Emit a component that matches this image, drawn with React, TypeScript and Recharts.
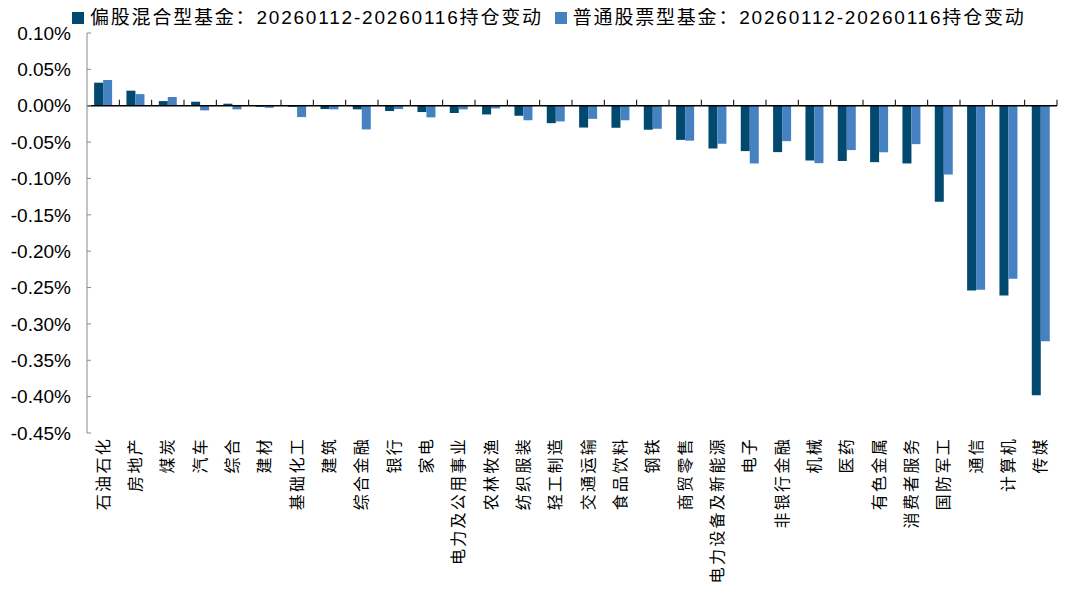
import { BarChart, Bar, XAxis, YAxis, ReferenceLine } from "recharts";

const FONT = '"Liberation Sans", "Noto Sans CJK SC", sans-serif';

const categories = [
  "石油石化", "房地产", "煤炭", "汽车", "综合", "建材", "基础化工", "建筑", "综合金融", "银行",
  "家电", "电力及公用事业", "农林牧渔", "纺织服装", "轻工制造", "交通运输", "食品饮料", "钢铁", "商贸零售", "电力设备及新能源",
  "电子", "非银行金融", "机械", "医药", "有色金属", "消费者服务", "国防军工", "通信", "计算机", "传媒",
];

// 单位：%
const hybridFund = [
  0.0317, 0.0207, 0.0064, 0.0055, 0.0028, -0.0014, -0.0014, -0.0046, -0.005, -0.0073,
  -0.0087, -0.01, -0.012, -0.0138, -0.024, -0.03, -0.0303, -0.033, -0.047, -0.0588,
  -0.0624, -0.0638, -0.0753, -0.076, -0.0776, -0.0794, -0.132, -0.254, -0.261, -0.398,
];

const stockFund = [
  0.0354, 0.016, 0.012, -0.0064, -0.005, -0.0028, -0.0156, -0.005, -0.0326, -0.0046,
  -0.016, -0.005, -0.0037, -0.02, -0.0216, -0.018, -0.02, -0.0317, -0.048, -0.0523,
  -0.0794, -0.0487, -0.079, -0.061, -0.064, -0.0528, -0.0946, -0.253, -0.238, -0.324,
];

const yTicks = [0.1, 0.05, 0, -0.05, -0.1, -0.15, -0.2, -0.25, -0.3, -0.35, -0.4, -0.45];

const seriesNames = [
  "偏股混合型基金：20260112-20260116持仓变动",
  "普通股票型基金：20260112-20260116持仓变动",
];

const DARK = "#02496F";
const LIGHT = "#4682C2";

function CategoryTick({ x, y, payload }: any) {
  return (
    <text
      transform={`translate(${x},${y + 4}) rotate(-90)`}
      textAnchor="end"
      dominantBaseline="central"
      fontSize={16}
      letterSpacing={2.3}
      fill="#000"
      fontFamily={FONT}
    >
      {payload.value}
    </text>
  );
}

// 零轴线 + 类别分隔刻度
function ZeroAxis(props: any) {
  const { x1, x2, y1 } = props;
  const step = (x2 - x1) / categories.length;
  return (
    <g>
      <line x1={x1} x2={x2} y1={y1} y2={y1} stroke="#000" strokeWidth={1.3} />
      {categories.map((_, i) => (
        <line
          key={i}
          x1={x1 + (i + 1) * step}
          x2={x1 + (i + 1) * step}
          y1={y1 - 6}
          y2={y1}
          stroke="#000"
        />
      ))}
    </g>
  );
}

export default function App() {
  const data = categories.map((name, i) => ({
    name,
    hybrid: hybridFund[i],
    stock: stockFund[i],
  }));

  return (
    <div style={{ position: "relative", width: 1059, height: 584, fontFamily: FONT }}>
      <div
        style={{
          position: "absolute",
          top: 0,
          left: 64,
          display: "flex",
          alignItems: "center",
          fontSize: 19,
          lineHeight: "19px",
          letterSpacing: 1.8,
          color: "#000",
          whiteSpace: "nowrap",
        }}
      >
        {seriesNames.map((s, i) => (
          <span key={s} style={{ display: "flex", alignItems: "center", marginRight: 12 }}>
            <span
              style={{
                display: "inline-block",
                width: 12,
                height: 12,
                background: i === 0 ? DARK : LIGHT,
                marginRight: 6,
              }}
            />
            {s}
          </span>
        ))}
      </div>
      <BarChart
        width={1059}
        height={584}
        data={data}
        margin={{ top: 25, right: 10, bottom: 4, left: 0 }}
        barCategoryGap="22%"
        barGap={0}
      >
        <XAxis
          dataKey="name"
          axisLine={false}
          tickLine={false}
          tickSize={0}
          tickMargin={0}
          height={155}
          interval={0}
          tick={<CategoryTick />}
        />
        <YAxis
          domain={[-0.45, 0.1]}
          ticks={yTicks}
          width={79}
          interval={0}
          axisLine={{ stroke: "#8a8a8a" }}
          tickLine={{ stroke: "#8a8a8a" }}
          tickSize={-4}
          tickMargin={20}
          tick={{ fill: "#000", fontSize: 19, fontFamily: FONT }}
          tickFormatter={(v: number) => `${v.toFixed(2)}%`}
        />
        <Bar dataKey="hybrid" fill={DARK} isAnimationActive={false} />
        <Bar dataKey="stock" fill={LIGHT} isAnimationActive={false} />
        <ReferenceLine y={0} shape={ZeroAxis} />
      </BarChart>
    </div>
  );
}
